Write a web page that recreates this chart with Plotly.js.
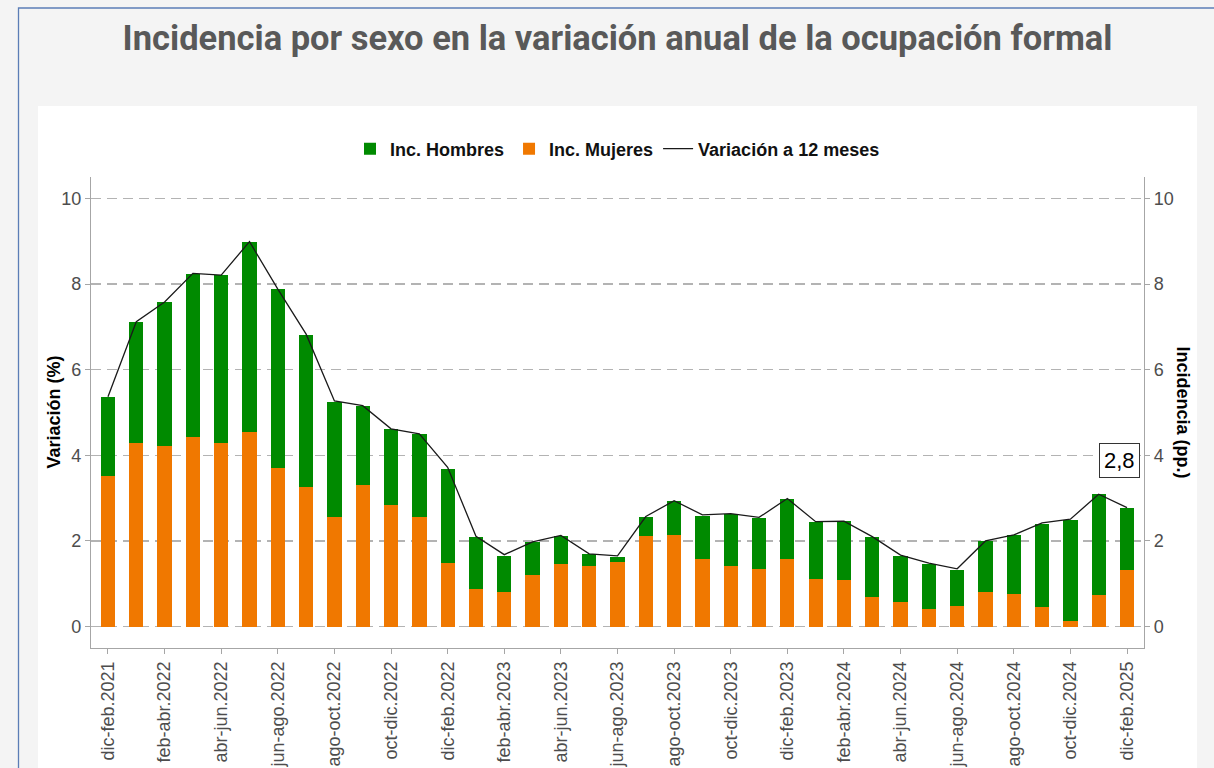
<!DOCTYPE html>
<html>
<head>
<meta charset="utf-8">
<script src="https://cdn.plot.ly/plotly-3.0.1.min.js"></script>
<style>
html,body{margin:0;padding:0;background:#f4f4f4;}
#chart{width:1214px;height:768px;}
</style>
</head>
<body>
<div id="chart"></div>
<script>
const categories = [
  "dic-feb.2021","ene-mar.2022","feb-abr.2022","mar-may.2022","abr-jun.2022","may-jul.2022",
  "jun-ago.2022","jul-sep.2022","ago-oct.2022","sep-nov.2022","oct-dic.2022","nov-ene.2022",
  "dic-feb.2022","ene-mar.2023","feb-abr.2023","mar-may.2023","abr-jun.2023","may-jul.2023",
  "jun-ago.2023","jul-sep.2023","ago-oct.2023","sep-nov.2023","oct-dic.2023","nov-ene.2023",
  "dic-feb.2023","ene-mar.2024","feb-abr.2024","mar-may.2024","abr-jun.2024","may-jul.2024",
  "jun-ago.2024","jul-sep.2024","ago-oct.2024","sep-nov.2024","oct-dic.2024","nov-ene.2024",
  "dic-feb.2025"
];
const tickLabels = [
  "dic-feb.2021","feb-abr.2022","abr-jun.2022","jun-ago.2022","ago-oct.2022","oct-dic.2022",
  "dic-feb.2022","feb-abr.2023","abr-jun.2023","jun-ago.2023","ago-oct.2023","oct-dic.2023",
  "dic-feb.2023","feb-abr.2024","abr-jun.2024","jun-ago.2024","ago-oct.2024","oct-dic.2024",
  "dic-feb.2025"
];
const incMujeres = [
  3.51,4.28,4.22,4.42,4.28,4.55,3.71,3.26,2.57,3.31,2.84,2.57,
  1.49,0.87,0.80,1.20,1.47,1.41,1.51,2.12,2.13,1.58,1.41,1.35,
  1.59,1.10,1.08,0.68,0.57,0.40,0.48,0.80,0.76,0.45,0.14,0.74,1.32
];
const incHombres = [
  1.86,2.83,3.36,3.82,3.92,4.43,4.17,3.56,2.68,1.84,1.77,1.92,
  2.20,1.23,0.86,0.77,0.65,0.28,0.11,0.43,0.80,1.01,1.22,1.18,
  1.40,1.34,1.38,1.42,1.08,1.06,0.84,1.19,1.37,1.95,2.36,2.35,1.44
];
const variacion = [
  5.37,7.12,7.58,8.25,8.21,8.99,7.88,6.83,5.27,5.16,4.62,4.50,
  3.72,2.11,1.68,1.98,2.13,1.70,1.65,2.57,2.94,2.61,2.64,2.55,
  2.99,2.45,2.46,2.10,1.67,1.48,1.35,2.00,2.14,2.42,2.51,3.09,2.78
];
const yTicks = [0,2,4,6,8,10];

const W = 1214, H = 768;
const M = {l:91, r:70, t:177, b:120};
const pw = W - M.l - M.r, ph = H - M.t - M.b;
const px2x = p => (p - M.l) / pw;
const py2y = p => (H - M.b - p) / ph;

const FONT = "Liberation Sans, Arial, sans-serif";
const GREEN = "#008a00", ORANGE = "#f07800";

const traces = [
  {type:"bar", name:"Inc. Mujeres", x:categories, y:incMujeres,
   marker:{color:ORANGE}, legendrank:2, hoverinfo:"x+y"},
  {type:"bar", name:"Inc. Hombres", x:categories, y:incHombres,
   marker:{color:GREEN}, legendrank:1, hoverinfo:"x+y"},
  {type:"scatter", mode:"lines", name:"Variación a 12 meses", x:categories, y:variacion,
   yaxis:"y2", line:{color:"#1a1a1a", width:1.3}, legendrank:3}
];

const last = variacion.length - 1;
const axisCommon = {
  range:[-0.5,10.5], tickvals:yTicks, ticks:"outside", ticklen:5, tickcolor:"#a6a6a6",
  showline:true, linecolor:"#a6a6a6", linewidth:1.2, zeroline:false,
  tickfont:{family:FONT, size:18, color:"#4d4d4d"}, fixedrange:true
};

const layout = {
  width:W, height:H,
  margin:M,
  paper_bgcolor:"#f4f4f4",
  plot_bgcolor:"#ffffff",
  barmode:"stack",
  bargap:0.495,
  showlegend:true,
  title:{
    text:"Incidencia por sexo en la variación anual de la ocupación formal",
    font:{family:"Roboto, sans-serif", size:34.5, color:"#595959", weight:"bold"},
    x:0.5, xref:"paper", xanchor:"center",
    y:1 - 38/H, yref:"container", yanchor:"middle"
  },
  legend:{
    orientation:"h", x:0.5, xanchor:"center", y:py2y(149), yanchor:"middle",
    font:{family:FONT, size:18, color:"#111", weight:"bold"},
    bgcolor:"rgba(0,0,0,0)", traceorder:"normal", itemwidth:30
  },
  xaxis:{
    type:"category", range:[-0.6,36.6], tickvals:tickLabels, ticktext:tickLabels,
    tickangle:-90, ticks:"outside", ticklen:5, tickcolor:"#a6a6a6",
    showline:true, linecolor:"#a6a6a6", linewidth:1.2, showgrid:false,
    tickfont:{family:FONT, size:18, color:"#4d4d4d"}, fixedrange:true
  },
  yaxis:Object.assign({}, axisCommon, {
    side:"left",
    showgrid:true, gridcolor:"#b3b3b3", gridwidth:1.5, griddash:"10px,6px"
  }),
  yaxis2:Object.assign({}, axisCommon, {
    overlaying:"y", side:"right", showgrid:false
  }),
  shapes:[
    {type:"rect", xref:"paper", yref:"paper", layer:"below",
     x0:px2x(38), x1:px2x(1197), y0:py2y(800), y1:py2y(106),
     fillcolor:"#ffffff", line:{width:0}},
    {type:"rect", xref:"paper", yref:"paper", layer:"below",
     x0:px2x(18.5), x1:px2x(1260), y0:py2y(820), y1:py2y(8),
     fillcolor:"rgba(0,0,0,0)", line:{color:"#5b7db6", width:1.3}}
  ],
  annotations:[
    {xref:"paper", yref:"paper", x:px2x(53), y:0.5, xanchor:"center", yanchor:"middle",
     text:"Variación (%)", textangle:-90, showarrow:false,
     font:{family:FONT, size:18, color:"#000", weight:"bold"}},
    {xref:"paper", yref:"paper", x:px2x(1183), y:0.5, xanchor:"center", yanchor:"middle",
     text:"Incidencia (pp.)", textangle:90, showarrow:false,
     font:{family:FONT, size:18, color:"#000", weight:"bold"}},
    {xref:"x", yref:"y2", x:categories[last], y:variacion[last],
     text:variacion[last].toFixed(1).replace(".", ","), showarrow:false,
     xshift:-8, yshift:47, xanchor:"center", yanchor:"middle",
     font:{family:FONT, size:22, color:"#000"},
     bgcolor:"#ffffff", bordercolor:"#333333", borderwidth:1, borderpad:4}
  ]
};

Plotly.newPlot("chart", traces, layout, {displayModeBar:false, staticPlot:true});
</script>
</body>
</html>
